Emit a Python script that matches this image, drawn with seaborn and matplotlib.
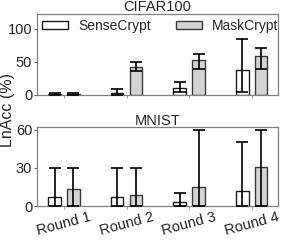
import pandas as pd
import seaborn as sns
import matplotlib.pyplot as plt
from matplotlib.patches import Patch

rounds = ['Round 1', 'Round 2', 'Round 3', 'Round 4']
methods = ['SenseCrypt', 'MaskCrypt']
fills = ['white', '#d3d3d3']
edges = ['#1a1a1a', '#3a3a3a']

# CIFAR100: bar value, error low, error high
cifar_sense = [1.5, 3.5, 10, 37]
cifar_sense_lo = [0, 0, 4, 4]
cifar_sense_hi = [3.5, 8.5, 19, 85]
cifar_mask = [1, 42.5, 52, 59]
cifar_mask_lo = [0, 36.5, 39.5, 39.5]
cifar_mask_hi = [2.5, 49, 61.5, 71.5]

# MNIST
mnist_sense = [7, 7, 3.3, 11.4]
mnist_sense_lo = [0, 0, 0, 0]
mnist_sense_hi = [30, 30, 10, 50]
mnist_mask = [13, 9, 15.3, 30.7]
mnist_mask_lo = [0, 0, 0, 0]
mnist_mask_hi = [30, 30, 60, 60]

sns.set_style('white')
plt.rcParams['font.family'] = ['Liberation Sans', 'DejaVu Sans']

fig = plt.figure(figsize=(2.81, 2.42), dpi=100)
ax1 = fig.add_axes([37 / 281, (242 - 95) / 242, 241 / 281, 81 / 242])
ax2 = fig.add_axes([37 / 281, (242 - 206) / 242, 241 / 281, 79 / 242])


def draw(ax, sense, slo, shi, mask, mlo, mhi, title, ylim, yticks, pad):
    df = pd.DataFrame({
        'round': rounds * 2,
        'method': [methods[0]] * 4 + [methods[1]] * 4,
        'value': sense + mask,
    })
    sns.barplot(data=df, x='round', y='value', hue='method', ax=ax,
                palette=fills, width=0.6, gap=1 / 3,
                errorbar=None, linewidth=1.0, legend=False)
    for cont, vals, lo, hi, ec in zip(ax.containers, [sense, mask],
                                      [slo, mlo], [shi, mhi], edges):
        xs = []
        for bar in cont:
            bar.set_edgecolor(ec)
            xs.append(bar.get_x() + bar.get_width() / 2)
        yerr = [[v - l for v, l in zip(vals, lo)],
                [h - v for v, h in zip(vals, hi)]]
        ax.errorbar(xs, vals, yerr=yerr, fmt='none', ecolor='black',
                    elinewidth=1.2, capsize=4, capthick=1.2, zorder=5)
    ax.set_xlim(-0.43, 3.42)
    ax.set_ylim(*ylim)
    ax.set_yticks(yticks)
    ax.set_title(title, fontsize=10.5, pad=pad)
    ax.set_xlabel('')
    ax.set_ylabel('')
    for s in ax.spines.values():
        s.set_color('#808080')
        s.set_linewidth(0.9)
    ax.tick_params(axis='y', labelsize=10.5, length=2.5, color='#606060',
                   pad=1, left=True)
    ax.tick_params(axis='x', length=2, color='#a0a0a0', bottom=True)


draw(ax1, cifar_sense, cifar_sense_lo, cifar_sense_hi,
     cifar_mask, cifar_mask_lo, cifar_mask_hi, 'CIFAR100', (0, 122),
     [0, 50, 100], 0.5)
draw(ax2, mnist_sense, mnist_sense_lo, mnist_sense_hi,
     mnist_mask, mnist_mask_lo, mnist_mask_hi, 'MNIST', (0, 62),
     [0, 30, 60], 1.2)

ax1.set_xticklabels([])
handles = [Patch(facecolor=f, edgecolor=e, linewidth=1.0, label=m)
           for f, e, m in zip(fills, edges, methods)]
ax1.legend(handles=handles, loc='upper left', ncol=2, frameon=False,
           fontsize=10, handlelength=1.9, handleheight=0.6,
           columnspacing=1.8, borderaxespad=0.15, handletextpad=0.7,
           borderpad=0.2)
ax2.set_xticks(range(4))
ax2.set_xticklabels(rounds, rotation=15, fontsize=10.5)
ax2.tick_params(axis='x', pad=1)

fig.text(0.025, 0.545, 'LnAcc (%)', rotation=90, va='center', ha='center',
         fontsize=11.5)

fig.savefig('out.png', dpi=100)
